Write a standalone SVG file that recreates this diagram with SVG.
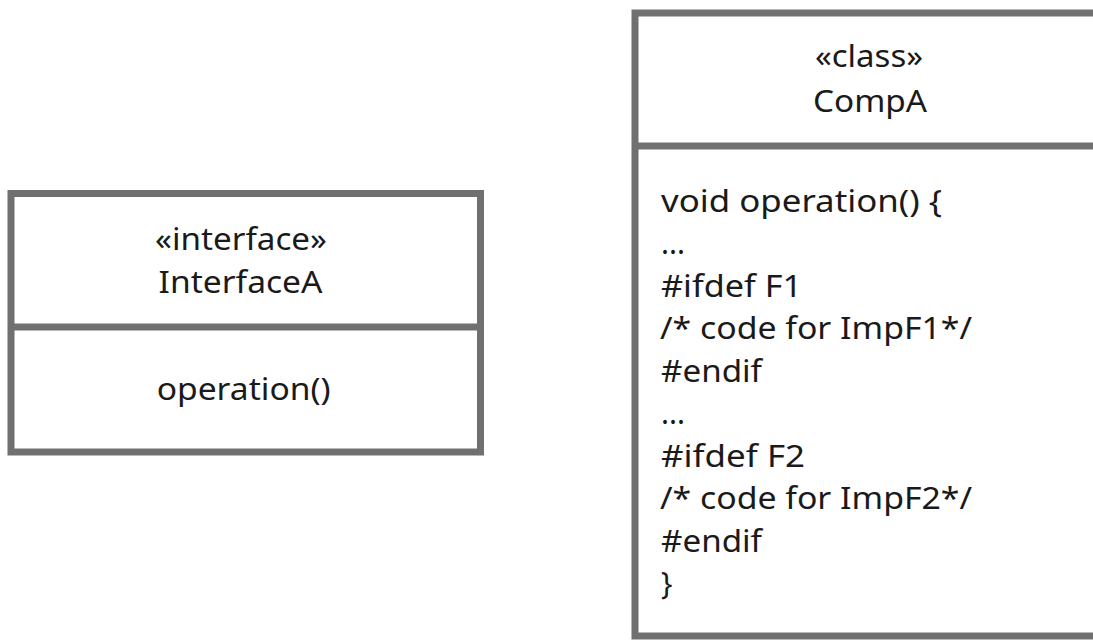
<svg xmlns="http://www.w3.org/2000/svg" width="1093" height="641" viewBox="0 0 1093 641">
<style>
.box{fill:#ffffff;stroke:#707070;stroke-width:7}
.div{stroke:#707070;stroke-width:7}
text{font-family:"Noto Sans","Open Sans",sans-serif;font-size:30px;fill:#1a1a1a}
.c{text-anchor:middle}
</style>
<rect width="1093" height="641" fill="#ffffff"/>
<g id="InterfaceA">
<rect class="box" x="11" y="193.5" width="469.5" height="258.5"/>
<line class="div" x1="11" y1="327" x2="480.5" y2="327"/>
<text class="c" x="241" y="250" textLength="172" lengthAdjust="spacingAndGlyphs">«interface»</text>
<text class="c" x="240.5" y="293" textLength="164" lengthAdjust="spacingAndGlyphs">InterfaceA</text>
<text class="c" x="243.7" y="400" textLength="174" lengthAdjust="spacingAndGlyphs">operation()</text>
</g>
<g id="CompA">
<rect class="box" x="635" y="13" width="470" height="623"/>
<line class="div" x1="635" y1="146" x2="1105" y2="146"/>
<text class="c" x="869" y="67" textLength="108" lengthAdjust="spacingAndGlyphs">«class»</text>
<text class="c" x="870" y="112" textLength="114" lengthAdjust="spacingAndGlyphs">CompA</text>
<text x="661" y="211.5" textLength="281" lengthAdjust="spacingAndGlyphs">void operation() {</text>
<text x="661" y="254" textLength="24" lengthAdjust="spacingAndGlyphs">...</text>
<text x="661" y="296.5" textLength="141" lengthAdjust="spacingAndGlyphs">#ifdef F1</text>
<text x="660" y="339" textLength="312" lengthAdjust="spacingAndGlyphs">/* code for ImpF1*/</text>
<text x="661" y="381.5" textLength="101" lengthAdjust="spacingAndGlyphs">#endif</text>
<text x="661" y="424" textLength="24" lengthAdjust="spacingAndGlyphs">...</text>
<text x="661" y="466.5" textLength="144" lengthAdjust="spacingAndGlyphs">#ifdef F2</text>
<text x="660" y="509" textLength="312" lengthAdjust="spacingAndGlyphs">/* code for ImpF2*/</text>
<text x="661" y="551.5" textLength="101" lengthAdjust="spacingAndGlyphs">#endif</text>
<text x="661" y="594">}</text>
</g>
<g id="connectors"></g>
</svg>
